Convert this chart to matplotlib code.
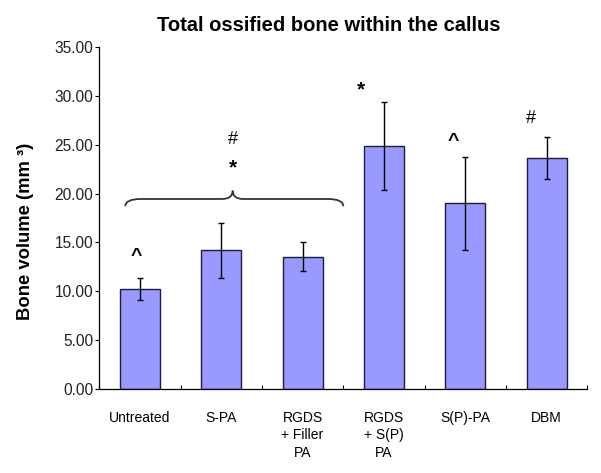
import numpy as np
import matplotlib
matplotlib.use("Agg")
import matplotlib.pyplot as plt
from matplotlib.path import Path
from matplotlib.patches import PathPatch
from matplotlib.ticker import FormatStrFormatter, MultipleLocator, FixedLocator

categories = ["Untreated", "S-PA", "RGDS\n+ Filler\nPA", "RGDS\n+ S(P)\nPA", "S(P)-PA", "DBM"]
volumes = [10.2, 14.2, 13.55, 24.85, 19.0, 23.65]
errors = [1.1, 2.8, 1.5, 4.5, 4.75, 2.15]

# significance marks: (text, x, y)
marks = [("^", -0.05, 13.6), ("#", 1.14, 25.5), ("*", 1.14, 22.6),
         ("*", 2.72, 30.6), ("^", 3.85, 25.3), ("#", 4.81, 27.7)]

plt.rcParams["font.family"] = ["Liberation Sans", "DejaVu Sans"]

fig = plt.figure(figsize=(6.01, 4.73), dpi=100)
ax = fig.add_axes([0.1652, 0.1782, 0.9772 - 0.1652, 0.9 - 0.1782])

x = np.arange(len(categories))
ax.bar(x, volumes, width=0.49, color="#9999ff", edgecolor="#1c1c3a", linewidth=1.0, zorder=2)
ax.errorbar(x, volumes, yerr=errors, fmt="none", ecolor="black", elinewidth=1.0,
            capsize=2.5, capthick=1.0, zorder=3)

ax.set_xlim(-0.5, len(categories) - 0.5)
ax.set_ylim(0, 35)
ax.yaxis.set_major_locator(MultipleLocator(5))
ax.yaxis.set_major_formatter(FormatStrFormatter("%.2f"))
ax.set_xticks(x)
ax.set_xticklabels(categories, fontsize=10, linespacing=1.3)
ax.xaxis.set_minor_locator(FixedLocator(np.arange(len(categories) + 1) - 0.5))
ax.tick_params(axis="x", which="major", length=0, pad=16)
ax.tick_params(axis="x", which="minor", direction="in", length=3, width=0.8)
ax.tick_params(axis="y", direction="out", length=3, width=0.8, pad=1.5, labelsize=11.2,
               labelcolor="#222222")

for s in ["top", "right"]:
    ax.spines[s].set_visible(False)
ax.spines["left"].set_linewidth(0.9)
ax.spines["bottom"].set_linewidth(0.9)

# curly brace over the first three groups
x0, x1, xt = -0.18, 2.5, 1.14
y_end, y_flat, y_tip = 18.7, 19.45, 20.3
r, rt = 0.19, 0.13
verts = [(x0, y_end), (x0, y_flat), (x0 + r, y_flat),
         (xt - rt, y_flat),
         (xt, y_flat), (xt, y_tip),
         (xt, y_flat), (xt + rt, y_flat),
         (x1 - r, y_flat),
         (x1, y_flat), (x1, y_end)]
codes = [Path.MOVETO, Path.CURVE3, Path.CURVE3,
         Path.LINETO,
         Path.CURVE3, Path.CURVE3,
         Path.CURVE3, Path.CURVE3,
         Path.LINETO,
         Path.CURVE3, Path.CURVE3]
ax.add_patch(PathPatch(Path(verts, codes), fill=False, edgecolor="#333333", linewidth=1.3,
                       clip_on=False, zorder=4))

for txt, mx, my in marks:
    if txt == "*":
        ax.text(mx, my, txt, ha="center", va="center", fontsize=15, fontweight="bold")
    elif txt == "^":
        ax.text(mx, my, txt, ha="center", va="center", fontsize=14, fontweight="bold")
    else:
        ax.text(mx, my, txt, ha="center", va="center", fontsize=13)

fig.text(0.547, 0.947, "Total ossified bone within the callus", ha="center", va="center",
         fontsize=14.5, fontweight="bold")
fig.text(0.0416, 0.5116, "Bone volume (mm ³)", ha="center", va="center", rotation=90,
         fontsize=13.3, fontweight="bold")

fig.savefig("out.png", dpi=100)
